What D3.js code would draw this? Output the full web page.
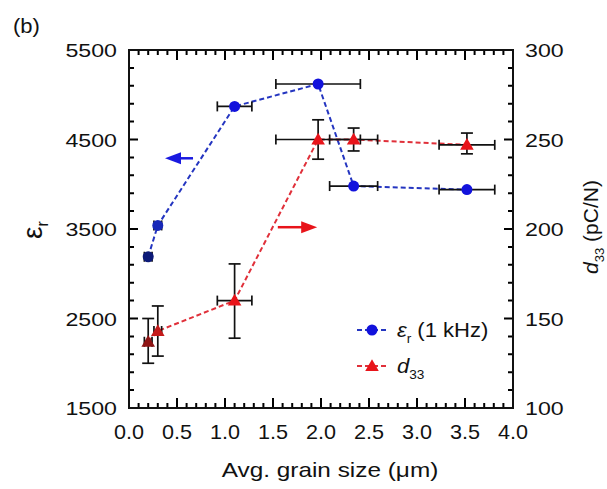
<!DOCTYPE html>
<html>
<head>
<meta charset="utf-8">
<script src="https://cdn.jsdelivr.net/npm/d3@7"></script>
<style>
  body { margin: 0; background: #fff; }
  svg { display: block; font-family: "Liberation Sans", Arial, sans-serif; }
</style>
</head>
<body>
<div id="chart"></div>
<script>
// grain size (um) and the two measured series
const grainSize = [0.2, 0.3, 1.1, 1.97, 2.34, 3.52];
const grainErr = [0.04, 0.04, 0.18, 0.44, 0.25, 0.29];
const epsR = [3190, 3540, 4870, 5120, 3980, 3940];
const d33 = [137, 143, 160, 250, 250, 247];
const d33Lo = [125, 129, 139, 239, 243.6, 242];
const d33Hi = [150, 157, 180.5, 261, 256.4, 253.6];

const xTicks = [0, 0.5, 1, 1.5, 2, 2.5, 3, 3.5, 4];
const yLeftTicks = [1500, 2500, 3500, 4500, 5500];
const yRightTicks = [100, 150, 200, 250, 300];

// arrows pointing at the axis each series belongs to
const arrowBlue = {from: [0.667, 4290], to: [0.375, 4290]};
const arrowRed = {from: [1.55, 201], to: [1.96, 201]};

const W = 607, H = 489;
const pL = 129, pR = 513, pT = 50, pB = 408;

const blue = "#1212dc", blueLine = "#2435c0";
const red = "#e8141a", redLine = "#e0303a";

const svg = d3.select("#chart").append("svg")
  .attr("width", W).attr("height", H);

svg.append("rect").attr("width", W).attr("height", H).attr("fill", "#fff");

const x = d3.scaleLinear().domain([0, 4]).range([pL, pR]);
const yL = d3.scaleLinear().domain([1500, 5500]).range([pB, pT]);
const yR = d3.scaleLinear().domain([100, 300]).range([pB, pT]);

// stretched text helper (the source font is rather wide)
function txt(g, px, py, s, size, anchor, sx) {
  return g.append("text")
    .attr("transform", `translate(${px},${py}) scale(${sx || 1},1)`)
    .attr("text-anchor", anchor || "start")
    .attr("font-size", size)
    .attr("fill", "#111")
    .text(s);
}

// inside ticks as one path per frame side
function tickPath(pts) {
  svg.append("path").attr("d", pts.join(""))
    .attr("fill", "none").attr("stroke", "#000").attr("stroke-width", 2);
}
const xMinorVals = d3.range(0, 41).map(i => i / 10);
tickPath(xMinorVals.map(v => {
  const len = xTicks.includes(v) ? 10 : 5;
  return `M${x(v)},${pB}v${-len}M${x(v)},${pT}v${len}`;
}));
tickPath(d3.range(1500, 5501, 200).map(v => {
  const len = yLeftTicks.includes(v) ? 9 : 5;
  return `M${pL},${yL(v)}h${len}`;
}));
tickPath(d3.range(100, 301, 10).map(v => {
  const len = yRightTicks.includes(v) ? 9 : 5;
  return `M${pR},${yR(v)}h${-len}`;
}));

svg.append("rect")
  .attr("x", pL).attr("y", pT)
  .attr("width", pR - pL).attr("height", pB - pT)
  .attr("fill", "none").attr("stroke", "#111").attr("stroke-width", 2);

// tick labels
const lab = svg.append("g");
xTicks.forEach(v => txt(lab, x(v), 439, d3.format(".1f")(v), 20, "middle", 1.08));
yLeftTicks.forEach(v => txt(lab, 117, yL(v) + 7, v, 19, "end", 1.22));
yRightTicks.forEach(v => txt(lab, 525, yR(v) + 7, v, 19, "start", 1.22));

// dashed connecting lines
const lineL = d3.line().x((d, i) => x(grainSize[i])).y(d => yL(d));
const lineR = d3.line().x((d, i) => x(grainSize[i])).y(d => yR(d));
svg.append("path").attr("d", lineL(epsR)).attr("fill", "none")
  .attr("stroke", blueLine).attr("stroke-width", 2).attr("stroke-dasharray", "5,3");
svg.append("path").attr("d", lineR(d33)).attr("fill", "none")
  .attr("stroke", redLine).attr("stroke-width", 2).attr("stroke-dasharray", "5,3");

// error bars
const eb = svg.append("g").attr("stroke", "#111").attr("stroke-width", 1.7).attr("fill", "none");
function hbar(cx, err, py) {
  const a = x(cx - err), b = x(cx + err);
  eb.append("line").attr("x1", a).attr("x2", b).attr("y1", py).attr("y2", py);
  eb.append("line").attr("x1", a).attr("x2", a).attr("y1", py - 5).attr("y2", py + 5);
  eb.append("line").attr("x1", b).attr("x2", b).attr("y1", py - 5).attr("y2", py + 5);
}
function vbar(px, lo, hi) {
  const a = yR(lo), b = yR(hi);
  eb.append("line").attr("x1", px).attr("x2", px).attr("y1", a).attr("y2", b);
  eb.append("line").attr("x1", px - 6).attr("x2", px + 6).attr("y1", a).attr("y2", a);
  eb.append("line").attr("x1", px - 6).attr("x2", px + 6).attr("y1", b).attr("y2", b);
}
grainSize.forEach((g, i) => {
  hbar(g, grainErr[i], yL(epsR[i]));
  hbar(g, grainErr[i], yR(d33[i]));
  vbar(x(g), d33Lo[i], d33Hi[i]);
});

// markers (the two smallest grains are overdrawn, so they look darker)
const blueFill = ["#0c1a78", "#1828b8", blue, blue, blue, blue];
const redFill = ["#8e1414", "#c41a1a", red, red, red, red];
const tri = d3.symbol().type(d3.symbolTriangle).size(80);

svg.append("g").selectAll("circle").data(epsR).join("circle")
  .attr("cx", (d, i) => x(grainSize[i])).attr("cy", d => yL(d))
  .attr("r", 5.5).attr("fill", (d, i) => blueFill[i]);
svg.append("g").selectAll("path").data(d33).join("path")
  .attr("d", tri)
  .attr("transform", (d, i) => `translate(${x(grainSize[i])},${yR(d) + 1})`)
  .attr("fill", (d, i) => redFill[i]);

// arrows
function arrow(a, yScale, col) {
  const x1 = x(a.from[0]), y1 = yScale(a.from[1]);
  const x2 = x(a.to[0]), y2 = yScale(a.to[1]);
  const dir = Math.sign(x2 - x1);
  svg.append("line").attr("x1", x1).attr("y1", y1).attr("x2", x2 - dir * 10).attr("y2", y2)
    .attr("stroke", col).attr("stroke-width", 2.5);
  svg.append("path")
    .attr("d", `M${x2},${y2} L${x2 - dir * 16},${y2 - 6} L${x2 - dir * 16},${y2 + 6} Z`)
    .attr("fill", col);
}
arrow(arrowBlue, yL, "#1a1ae0");
arrow(arrowRed, yR, red);

// legend
const lg = svg.append("g");
lg.append("line").attr("x1", 357).attr("x2", 388).attr("y1", 330).attr("y2", 330)
  .attr("stroke", blueLine).attr("stroke-width", 2).attr("stroke-dasharray", "5,3");
lg.append("circle").attr("cx", 372).attr("cy", 330).attr("r", 5.5).attr("fill", blue);
lg.append("line").attr("x1", 357).attr("x2", 388).attr("y1", 366).attr("y2", 366)
  .attr("stroke", redLine).attr("stroke-width", 2).attr("stroke-dasharray", "5,3");
lg.append("path").attr("d", tri).attr("transform", "translate(372,367)").attr("fill", red);

const t1 = txt(lg, 397, 337, "", 21, "start", 1.05);
t1.append("tspan").attr("font-style", "italic").text("ε");
t1.append("tspan").attr("font-size", 13).attr("dy", 6).text("r");
t1.append("tspan").attr("dy", -6).text(" (1 kHz)");
const t2 = txt(lg, 397, 373, "", 21, "start", 1.05);
t2.append("tspan").attr("font-style", "italic").text("d");
t2.append("tspan").attr("font-size", 13).attr("dy", 6).text("33");

// axis titles
txt(svg, 330, 477, "Avg. grain size (μm)", 21, "middle", 1.16);

const tl = svg.append("text")
  .attr("transform", "translate(42,230) rotate(-90)")
  .attr("text-anchor", "middle").attr("font-size", 28).attr("fill", "#111");
tl.append("tspan").text("ε");
tl.append("tspan").attr("font-size", 16).attr("dy", 6).text("r");

const tRight = svg.append("text")
  .attr("transform", "translate(598,227) rotate(-90)")
  .attr("text-anchor", "middle").attr("font-size", 21).attr("fill", "#111");
tRight.append("tspan").attr("font-style", "italic").text("d");
tRight.append("tspan").attr("font-size", 13).attr("dy", 6).text("33");
tRight.append("tspan").attr("dy", -6).text(" (pC/N)");

txt(svg, 13, 33, "(b)", 20, "start", 1.1);
</script>
</body>
</html>
